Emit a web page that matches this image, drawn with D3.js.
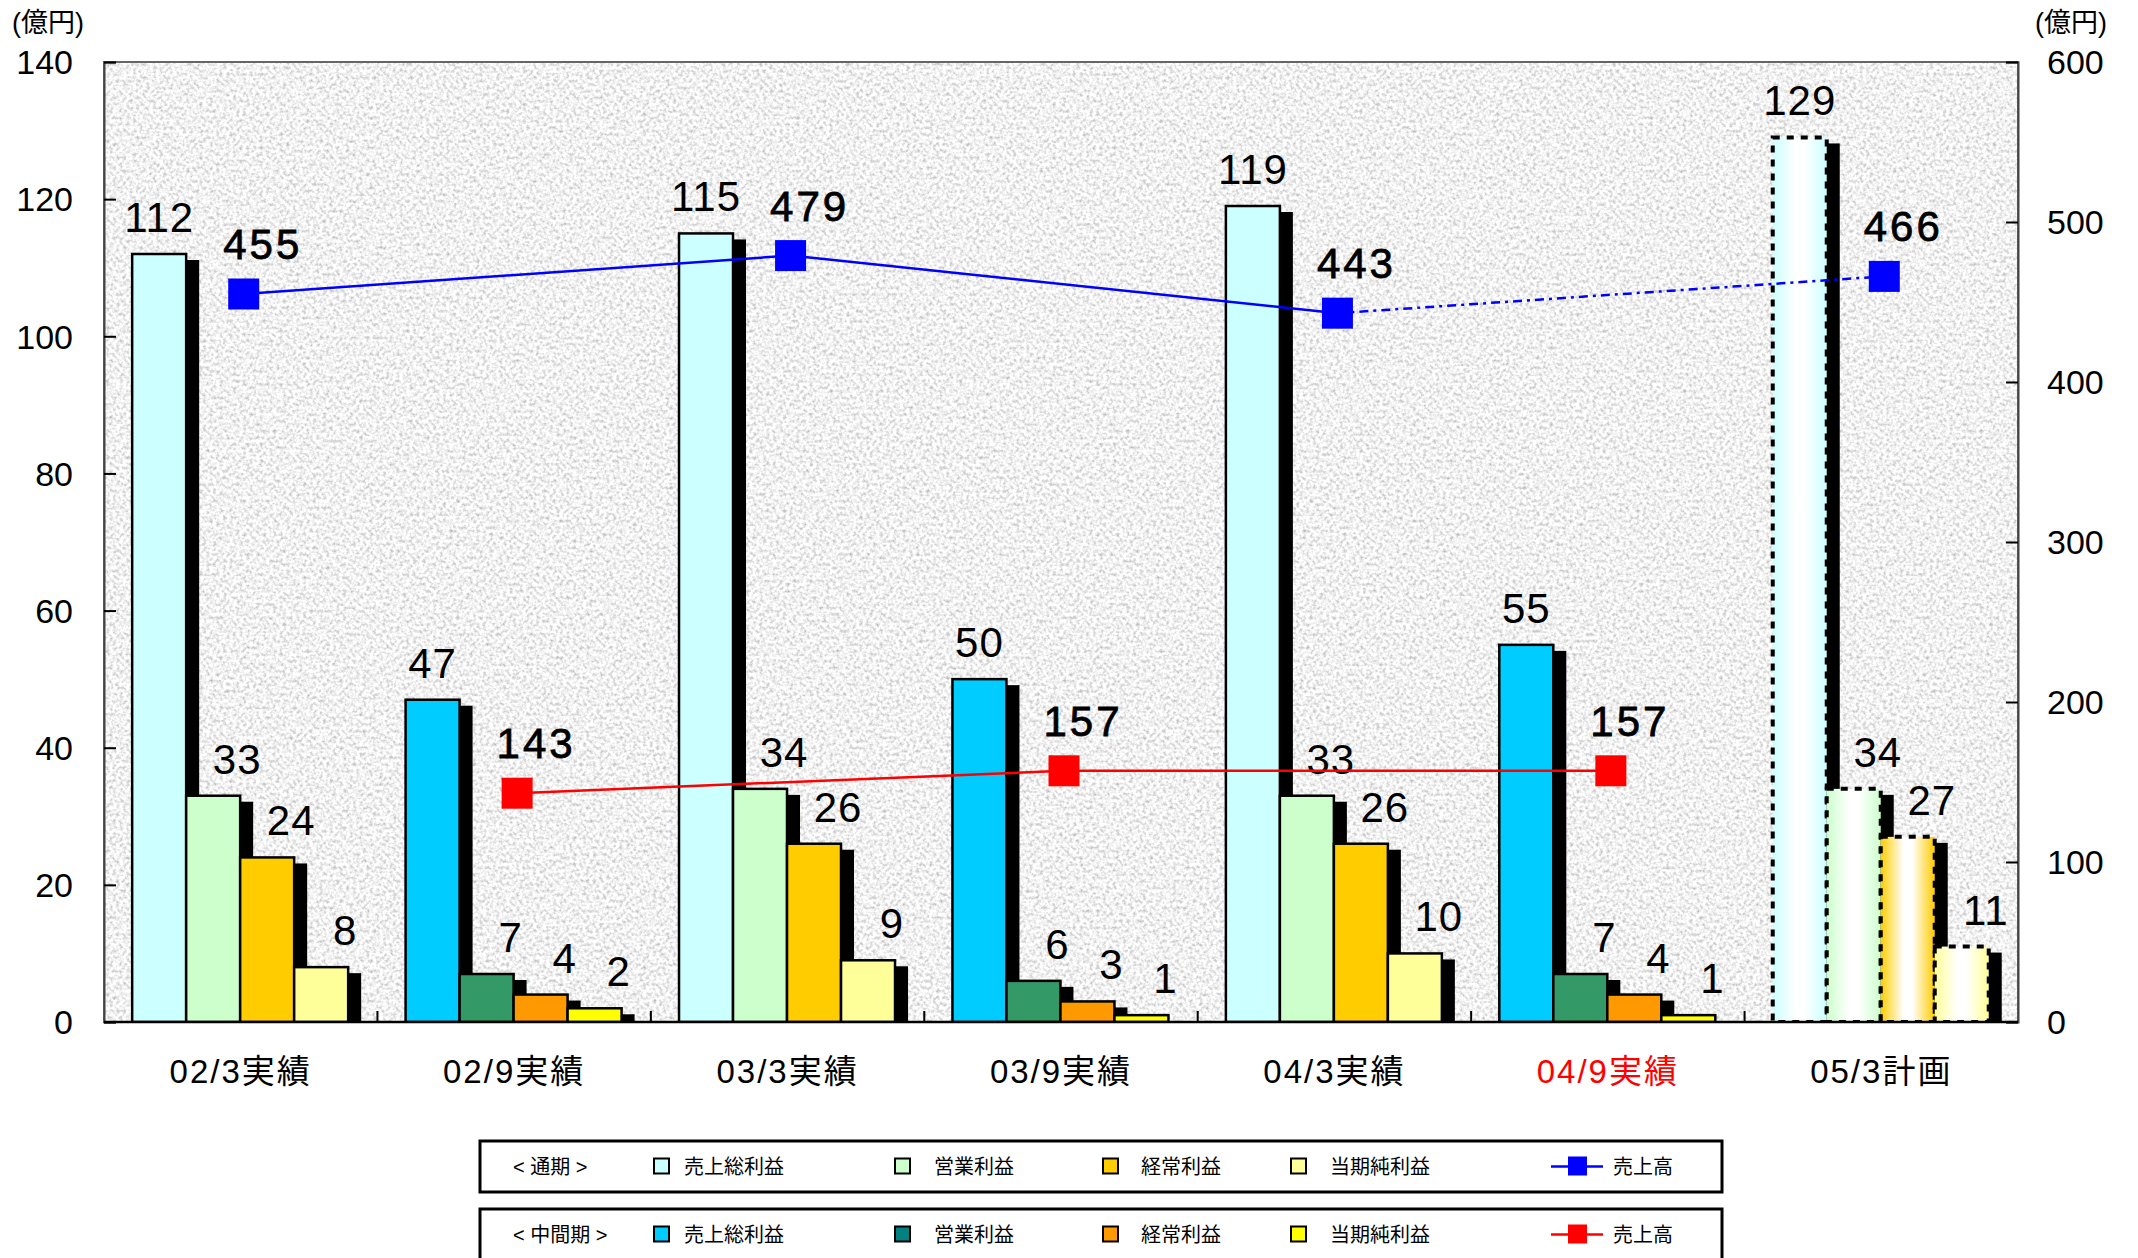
<!DOCTYPE html>
<html lang="ja">
<head>
<meta charset="utf-8">
<script src="https://cdn.jsdelivr.net/npm/d3@7"></script>
<style>
  html, body { margin: 0; padding: 0; background: #ffffff; }
  svg { display: block; }
  text { font-family: "Liberation Sans", Arial, "Noto Sans CJK JP", sans-serif; }
</style>
</head>
<body>
<svg id="chart" width="2138" height="1258"></svg>
<script>
// ---- data ----
const categories = ["02/3実績", "02/9実績", "03/3実績", "03/9実績", "04/3実績", "04/9実績", "05/3計画"];
const periodKinds = ["full", "half", "full", "half", "full", "half", "plan"];
const grossProfit     = [112, 47, 115, 50, 119, 55, 129];
const operatingProfit = [33, 7, 34, 6, 33, 7, 34];
const ordinaryProfit  = [24, 4, 26, 3, 26, 4, 27];
const netIncome       = [8, 2, 9, 1, 10, 1, 11];
const salesFullYear   = [455, null, 479, null, 443, null, 466];
const salesInterim    = [null, 143, null, 157, null, 157, null];
const leftTicks  = [0, 20, 40, 60, 80, 100, 120, 140];
const rightTicks = [0, 100, 200, 300, 400, 500, 600];
const seriesNames = ["売上総利益", "営業利益", "経常利益", "当期純利益"];
const unitLabel = "(億円)";
const legendRowTitles = ["< 通期 >", "< 中間期 >"];
const lineName = "売上高";
const highlightCategory = "04/9実績";

// ---- styles ----
const fullColors = ["#CCFFFF", "#CCFFCC", "#FFCC00", "#FFFF99"];
const halfColors = ["#00CCFF", "#339966", "#FF9900", "#FFFF00"];
const halfLegendColors = ["#00CCFF", "#008080", "#FF9900", "#FFFF00"];

const svg = d3.select("#chart");
const plot = { left: 104, right: 2018, top: 62, bottom: 1022 };

const defs = svg.append("defs");

// granite-like gray texture for the plot area
const tex = defs.append("filter").attr("id", "granite")
  .attr("x", 0).attr("y", 0).attr("width", "100%").attr("height", "100%")
  .attr("filterUnits", "objectBoundingBox");
tex.append("feTurbulence").attr("type", "fractalNoise")
  .attr("baseFrequency", "0.3").attr("numOctaves", 2).attr("seed", 7).attr("result", "n");
tex.append("feColorMatrix").attr("in", "n").attr("type", "matrix")
  .attr("values", "1.05 0 0 0 0.36  1.05 0 0 0 0.36  1.05 0 0 0 0.36  0 0 0 0 1");

// plan bars: colour – white – colour horizontal gradient
fullColors.forEach((c, i) => {
  const g = defs.append("linearGradient").attr("id", "planGrad" + i)
    .attr("x1", "0%").attr("x2", "100%").attr("y1", "0%").attr("y2", "0%");
  g.append("stop").attr("offset", "0%").attr("stop-color", c);
  g.append("stop").attr("offset", "42%").attr("stop-color", "#ffffff");
  g.append("stop").attr("offset", "58%").attr("stop-color", "#ffffff");
  g.append("stop").attr("offset", "100%").attr("stop-color", c);
});

defs.append("clipPath").attr("id", "plotClip")
  .append("rect").attr("x", plot.left).attr("y", plot.top)
  .attr("width", plot.right - plot.left).attr("height", plot.bottom - plot.top);

// ---- scales ----
const x = d3.scaleBand().domain(categories).range([plot.left, plot.right]).padding(0);
const band = x.bandwidth();
const barWidth = 54;
const xs = d3.scaleBand().domain(d3.range(4))
  .range([band * 0.103, band * 0.103 + barWidth * 4]).padding(0);
const yL = d3.scaleLinear().domain([0, 140]).range([plot.bottom, plot.top]);
const yR = d3.scaleLinear().domain([0, 600]).range([plot.bottom, plot.top]);

// ---- plot background ----
svg.append("rect")
  .attr("x", plot.left).attr("y", plot.top)
  .attr("width", plot.right - plot.left).attr("height", plot.bottom - plot.top)
  .attr("fill", "#e4e4e4").attr("filter", "url(#granite)");

// ---- bars ----
const seriesValues = [grossProfit, operatingProfit, ordinaryProfit, netIncome];
const bars = [];
categories.forEach((cat, ci) => {
  seriesValues.forEach((vals, si) => {
    bars.push({ cat, ci, si, value: vals[ci], kind: periodKinds[ci] });
  });
});
const shadowDx = 13, shadowDy = 6;
const barLayer = svg.append("g").attr("clip-path", "url(#plotClip)");

barLayer.selectAll("rect.shadow").data(bars).join("rect")
  .attr("class", "shadow")
  .attr("x", d => x(d.cat) + xs(d.si) + shadowDx)
  .attr("y", d => yL(d.value) + shadowDy)
  .attr("width", xs.bandwidth())
  .attr("height", d => Math.max(0, plot.bottom - yL(d.value) - shadowDy))
  .attr("fill", "#000");

barLayer.selectAll("rect.bar").data(bars).join("rect")
  .attr("class", "bar")
  .attr("x", d => x(d.cat) + xs(d.si))
  .attr("y", d => yL(d.value))
  .attr("width", xs.bandwidth())
  .attr("height", d => plot.bottom - yL(d.value))
  .attr("fill", d => d.kind === "plan" ? `url(#planGrad${d.si})`
                   : d.kind === "full" ? fullColors[d.si] : halfColors[d.si])
  .attr("stroke", "#000")
  .attr("stroke-width", d => d.kind === "plan" ? 4 : 2.5)
  .attr("stroke-dasharray", d => d.kind === "plan" ? "7,7" : null);

// bar value labels
svg.append("g").selectAll("text").data(bars).join("text")
  .attr("x", d => x(d.cat) + xs(d.si) + xs.bandwidth() / 2 + (d.si === 0 ? 0 : 24))
  .attr("y", d => yL(d.value) - 22)
  .attr("text-anchor", "middle")
  .attr("font-size", 42)
  .attr("letter-spacing", 1)
  .attr("fill", "#000")
  .text(d => d.value);

// ---- axes frame ----
svg.append("rect")
  .attr("x", plot.left).attr("y", plot.top)
  .attr("width", plot.right - plot.left).attr("height", plot.bottom - plot.top)
  .attr("fill", "none").attr("stroke", "#666").attr("stroke-width", 2);

// left axis (ticks inside)
const leftAxis = d3.axisRight(yL).tickValues(leftTicks).tickSize(12).tickFormat("");
svg.append("g").attr("transform", `translate(${plot.left},0)`).call(leftAxis)
  .call(g => g.select(".domain").attr("stroke", "#444").attr("stroke-width", 2))
  .call(g => g.selectAll(".tick line").attr("stroke", "#000").attr("stroke-width", 2));
svg.append("g").selectAll("text").data(leftTicks).join("text")
  .attr("x", 73).attr("y", d => yL(d)).attr("dy", "0.36em")
  .attr("text-anchor", "end").attr("font-size", 34).text(d => d);

// right axis (ticks inside)
const rightAxis = d3.axisLeft(yR).tickValues(rightTicks).tickSize(12).tickFormat("");
svg.append("g").attr("transform", `translate(${plot.right},0)`).call(rightAxis)
  .call(g => g.select(".domain").attr("stroke", "#444").attr("stroke-width", 2))
  .call(g => g.selectAll(".tick line").attr("stroke", "#000").attr("stroke-width", 2));
svg.append("g").selectAll("text").data(rightTicks).join("text")
  .attr("x", 2047).attr("y", d => yR(d)).attr("dy", "0.36em")
  .attr("text-anchor", "start").attr("font-size", 34).text(d => d);

// bottom axis with category boundary ticks
const boundaries = categories.slice(1).map(c => x(c));
svg.append("g").selectAll("line").data(boundaries).join("line")
  .attr("x1", d => d).attr("x2", d => d)
  .attr("y1", plot.bottom).attr("y2", plot.bottom - 11)
  .attr("stroke", "#000").attr("stroke-width", 2);
svg.append("line")
  .attr("x1", plot.left).attr("x2", plot.right)
  .attr("y1", plot.bottom).attr("y2", plot.bottom)
  .attr("stroke", "#000").attr("stroke-width", 2.5);

svg.append("g").selectAll("text").data(categories).join("text")
  .attr("x", d => x(d) + band / 2)
  .attr("y", 1083)
  .attr("text-anchor", "middle")
  .attr("font-size", 33)
  .attr("letter-spacing", 2)
  .attr("fill", d => d === highlightCategory ? "#FF0000" : "#000")
  .text(d => d);

// unit labels
svg.append("text").attr("x", 12).attr("y", 32).attr("font-size", 27).text(unitLabel);
svg.append("text").attr("x", 2035).attr("y", 32).attr("font-size", 27).text(unitLabel);

// ---- sales lines ----
const markerSize = 31;
function drawSales(values, color) {
  const pts = categories.map((c, i) => ({ cat: c, kind: periodKinds[i], v: values[i] }))
    .filter(d => d.v !== null);
  const line = d3.line().x(d => x(d.cat) + band / 2 + 3).y(d => yR(d.v));
  const g = svg.append("g");
  for (let i = 0; i < pts.length - 1; i++) {
    const seg = [pts[i], pts[i + 1]];
    g.append("path").attr("d", line(seg))
      .attr("fill", "none").attr("stroke", color).attr("stroke-width", 2.5)
      .attr("stroke-dasharray", seg[1].kind === "plan" ? "9,5,3,5" : null);
  }
  g.selectAll("rect").data(pts).join("rect")
    .attr("x", d => x(d.cat) + band / 2 + 3 - markerSize / 2)
    .attr("y", d => yR(d.v) - markerSize / 2)
    .attr("width", markerSize).attr("height", markerSize)
    .attr("fill", color);
  g.selectAll("text").data(pts).join("text")
    .attr("x", d => x(d.cat) + band / 2 + 22)
    .attr("y", d => yR(d.v) - 35)
    .attr("text-anchor", "middle")
    .attr("font-size", 42)
    .attr("letter-spacing", 3)
    .attr("stroke", "#000").attr("stroke-width", 0.8)
    .attr("fill", "#000")
    .text(d => d.v);
}
drawSales(salesFullYear, "#0000FF");
drawSales(salesInterim, "#FF0000");

// ---- legend ----
const legendRows = [
  { title: legendRowTitles[0], colors: fullColors, lineColor: "#0000FF", top: 1141 },
  { title: legendRowTitles[1], colors: halfLegendColors, lineColor: "#FF0000", top: 1209 }
];
const legendBox = { left: 480, right: 1722, h: 51 };
const swatchX = [654, 895, 1103, 1291];
const textX = [684, 934, 1141, 1330];

legendRows.forEach(row => {
  const g = svg.append("g");
  const cy = row.top + legendBox.h / 2;
  g.append("rect").attr("x", legendBox.left).attr("y", row.top)
    .attr("width", legendBox.right - legendBox.left).attr("height", legendBox.h)
    .attr("fill", "#fff").attr("stroke", "#000").attr("stroke-width", 3);
  g.append("text").attr("x", 513).attr("y", cy).attr("dy", "0.35em")
    .attr("font-size", 20).attr("xml:space", "preserve").text(row.title);
  seriesNames.forEach((name, i) => {
    g.append("rect").attr("x", swatchX[i]).attr("y", cy - 8)
      .attr("width", 15).attr("height", 15)
      .attr("fill", row.colors[i]).attr("stroke", "#000").attr("stroke-width", 2);
    g.append("text").attr("x", textX[i]).attr("y", cy).attr("dy", "0.35em")
      .attr("font-size", 20).text(name);
  });
  g.append("line").attr("x1", 1551).attr("x2", 1603).attr("y1", cy).attr("y2", cy)
    .attr("stroke", row.lineColor).attr("stroke-width", 2.5);
  g.append("rect").attr("x", 1568).attr("y", cy - 10).attr("width", 19).attr("height", 19)
    .attr("fill", row.lineColor);
  g.append("text").attr("x", 1613).attr("y", cy).attr("dy", "0.35em")
    .attr("font-size", 20).text(lineName);
});
</script>
</body>
</html>
